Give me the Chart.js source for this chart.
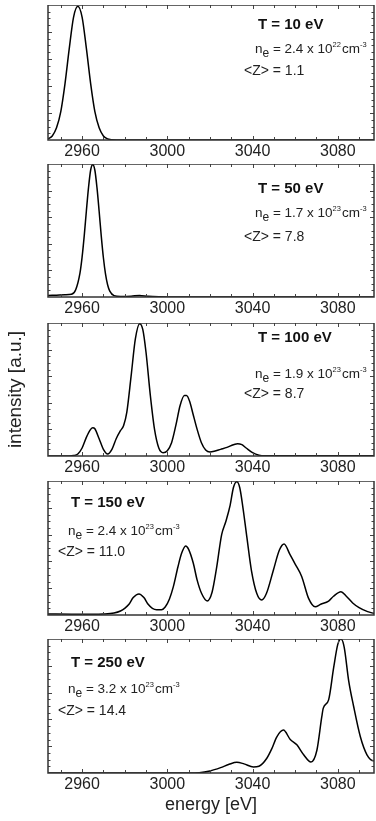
<!DOCTYPE html>
<html>
<head>
<meta charset="utf-8">
<script src="https://cdn.jsdelivr.net/npm/chart.js@4.4.0/dist/chart.umd.min.js"></script>
<style>
  body { margin: 0; background: #fff; }
  #wrap { position: relative; width: 376px; height: 821px; }
  canvas { position: absolute; left: 0; }
</style>
</head>
<body>
<div id="wrap">
  <canvas id="c0"></canvas>
  <canvas id="c1"></canvas>
  <canvas id="c2"></canvas>
  <canvas id="c3"></canvas>
  <canvas id="c4"></canvas>
</div>
<script>
// tick labels on the energy axis
const xTicks = [2960, 3000, 3040, 3080];

// panel annotations
const temps = [10, 50, 100, 150, 250];
const neMant = ['2.4', '1.7', '1.9', '2.4', '3.2'];
const neExp = ['22', '23', '23', '23', '23'];
const zMean = ['1.1', '7.8', '8.7', '11.0', '14.4'];

// spectra [energy eV, intensity a.u.]
const spec10 = [[2944, .008], [2946, .03], [2948, .09], [2950, .21], [2952, .42], [2954, .68], [2956, .91], [2958, .99],
  [2960, .91], [2962, .68], [2964, .42], [2966, .21], [2968, .09], [2970, .03], [2972, .008], [2976, 0], [3097, 0]];

const spec50 = [[2944, .012], [2948, .014], [2952, .016], [2955, .02], [2957, .055], [2959, .18], [2960, .3], [2961, .46],
  [2962, .645], [2963, .82], [2964, .953], [2965, .995], [2966, .953], [2967, .82], [2968, .645], [2969, .458], [2970, .295],
  [2971, .172], [2972, .09], [2973, .044], [2975, .01], [2978, .004], [2983, .006], [2987, .012], [2991, .005], [2996, .001],
  [3000, 0], [3097, 0]];

const spec100 = [[2944, 0], [2954, 0], [2956, .003], [2958, .015], [2960, .06], [2962, .14], [2964, .2], [2965, .213], [2966, .205],
  [2968, .13], [2970, .05], [2972, .015], [2974, .05], [2976, .13], [2978, .19], [2979.5, .23], [2981, .33], [2983, .6],
  [2985, .88], [2987, .995], [2988.5, .95], [2990, .78], [2992, .46], [2994, .2], [2996, .06], [2998, .025], [3000, .04],
  [3002, .1], [3004, .23], [3006, .38], [3008, .455], [3009, .455], [3010.5, .41], [3012, .32], [3014, .2], [3016, .1],
  [3018, .045], [3020, .03], [3022, .035], [3025, .05], [3028, .065], [3031, .085], [3033, .093], [3035, .085], [3037, .06],
  [3040, .025], [3043, .006], [3046, .002], [3060, .002], [3097, .002]];

const spec150 = [[2944, .007], [2955, .006], [2965, .005], [2970, .007], [2975, .015], [2978, .03], [2980, .05], [2982, .08],
  [2984, .13], [2986.7, .157], [2989, .13], [2991, .08], [2993, .05], [2995, .04], [2997.3, .04], [2999, .06], [3001, .12],
  [3002.8, .21], [3005, .36], [3006.7, .46], [3008.6, .515], [3010, .49], [3012.2, .386], [3014, .26], [3016.1, .16],
  [3018.7, .105], [3021, .17], [3023, .34], [3025.5, .6], [3027.5, .7], [3029.5, .82], [3031, .95], [3032.6, .995],
  [3034, .95], [3035.5, .8], [3037.3, .585], [3039.5, .33], [3042, .16], [3044.3, .112], [3046.5, .16], [3049.8, .336],
  [3052.6, .485], [3054.8, .53], [3057.6, .45], [3060, .38], [3063.1, .286], [3066.3, .124], [3069.4, .062], [3072, .08],
  [3075.7, .104], [3078, .14], [3081.5, .174], [3084, .14], [3087, .09], [3090, .055], [3094, .025], [3097, .012]];

const spec250 = [[2944, 0], [3010, 0], [3015, .002], [3020, .015], [3025, .04], [3029, .065], [3032.6, .08], [3036, .068],
  [3040.4, .045], [3043, .05], [3046.7, .11], [3049, .18], [3051.4, .27], [3054.5, .32], [3057.7, .25], [3060.8, .21],
  [3064, .136], [3067.4, .082], [3070.2, .17], [3072.5, .42], [3073.2, .484], [3075.7, .546], [3078.1, .79], [3080, .96],
  [3081.5, 1.0], [3083, .94], [3085.1, .69], [3087.4, .5], [3090.6, .27], [3093.7, .136], [3096.9, .092], [3097, .092]];

const spectra = [spec10, spec50, spec100, spec150, spec250];

// page layout of each panel (plot box top and height, label placement)
const layout = [
  { top: 5, h: 135, tx: 258, nx: 255, zx: 244, dy: [20, 44, 66] },
  { top: 164, h: 133, tx: 258, nx: 255, zx: 244, dy: [25, 49, 73] },
  { top: 323, h: 133, tx: 258, nx: 255, zx: 244, dy: [15, 51, 71] },
  { top: 481, h: 134, tx: 71, nx: 68, zx: 58, dy: [22, 50, 71] },
  { top: 639, h: 134, tx: 71, nx: 68, zx: 58, dy: [24, 50, 72] }
];

const FONT = '"Liberation Sans", Arial, sans-serif';
Chart.defaults.font.family = FONT;
Chart.defaults.color = '#222';

// box round the plot with inward ticks on all four sides
const framePlugin = {
  id: 'frame',
  afterDatasetsDraw(chart) {
    const { ctx, chartArea: a, scales: { x, y } } = chart;
    ctx.save();
    ctx.strokeStyle = '#444';
    ctx.lineWidth = 1;
    for (let e = 2950; e <= 3090; e += 10) {
      const px = Math.round(x.getPixelForValue(e)) + 0.5;
      const len = e % 40 === 0 ? 4 : 3;
      ctx.beginPath();
      ctx.moveTo(px, a.bottom); ctx.lineTo(px, a.bottom - len);
      ctx.moveTo(px, a.top); ctx.lineTo(px, a.top + len);
      ctx.stroke();
    }
    for (let k = 1; k < 20; k++) {
      const py = Math.round(y.getPixelForValue(k * 0.05)) + 0.5;
      const len = k % 4 === 0 ? 4 : 2.5;
      ctx.beginPath();
      ctx.moveTo(a.left, py); ctx.lineTo(a.left + len, py);
      ctx.moveTo(a.right, py); ctx.lineTo(a.right - len, py);
      ctx.stroke();
    }
    ctx.lineWidth = 1.5;
    ctx.strokeStyle = '#333';
    ctx.strokeRect(a.left, a.top, a.right - a.left, a.bottom - a.top);
    ctx.restore();
  }
};

function drawRich(ctx, x, y, parts) {
  for (const [t, kind] of parts) {
    let size = 13.5, dy = 0;
    if (kind === 'sub') { size = 12; dy = 5; }
    if (kind === 'sup') { size = 7.5; dy = -4; }
    if (kind === 'gap') { x += t; continue; }
    ctx.font = size + 'px ' + FONT;
    ctx.fillText(t, x, y + dy);
    x += ctx.measureText(t).width;
  }
}

function textPlugin(i) {
  return {
    id: 'notes' + i,
    afterDraw(chart) {
      const p = layout[i];
      const ctx = chart.ctx;
      const top = chart.chartArea.top;
      ctx.save();
      ctx.fillStyle = '#111';
      ctx.textBaseline = 'middle';
      ctx.textAlign = 'left';
      ctx.font = 'bold 15px ' + FONT;
      ctx.fillText('T = ' + temps[i] + ' eV', p.tx, top + p.dy[0]);
      ctx.fillStyle = '#222';
      drawRich(ctx, p.nx, top + p.dy[1], [
        ['n'], ['e', 'sub'], [' = ' + neMant[i] + ' x 10'], [neExp[i], 'sup'], [1, 'gap'], ['cm'], ['-3', 'sup']
      ]);
      ctx.font = '14px ' + FONT;
      ctx.fillText('<Z> = ' + zMean[i], p.zx, top + p.dy[2]);
      ctx.restore();
    }
  };
}

function makeChart(i) {
  const p = layout[i];
  const last = i === 4;
  const band = last ? 47 : 20;
  const cv = document.getElementById('c' + i);
  cv.width = 376;
  cv.height = p.h + band;
  cv.style.top = p.top + 'px';

  new Chart(cv, {
    type: 'line',
    data: {
      datasets: [{
        data: spectra[i].map(([e, v]) => ({ x: e, y: v })),
        borderColor: '#000',
        borderWidth: 1.5,
        pointRadius: 0,
        fill: false,
        cubicInterpolationMode: 'monotone'
      }]
    },
    options: {
      responsive: false,
      animation: false,
      devicePixelRatio: 1,
      layout: { padding: { top: 0, right: 2, left: 0, bottom: 0 } },
      plugins: { legend: { display: false }, tooltip: { enabled: false } },
      scales: {
        x: {
          type: 'linear',
          min: 2944,
          max: 3097,
          afterBuildTicks: s => { s.ticks = xTicks.map(v => ({ value: v })); },
          afterFit: s => { s.height = band; },
          grid: { display: false, drawTicks: false },
          border: { display: false },
          ticks: { font: { size: 16 }, color: '#222', padding: 2, maxRotation: 0, callback: v => String(v) },
          title: { display: last, text: 'energy [eV]', font: { size: 18 }, color: '#222', padding: { top: 0, bottom: 4 } }
        },
        y: {
          min: 0,
          max: 1,
          afterFit: s => { s.width = 48; },
          grid: { display: false, drawTicks: false },
          border: { display: false },
          ticks: { display: false },
          title: { display: i === 2, text: 'intensity [a.u.]', font: { size: 19 }, color: '#222', padding: { top: 4, bottom: 0 } }
        }
      }
    },
    plugins: [framePlugin, textPlugin(i)]
  });
}

for (let i = 0; i < 5; i++) makeChart(i);
</script>
</body>
</html>
